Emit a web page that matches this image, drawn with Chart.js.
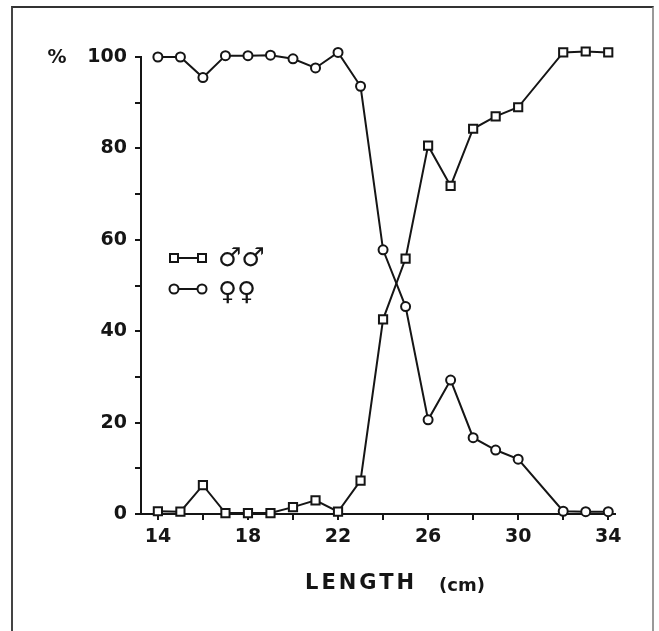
<!DOCTYPE html>
<html>
<head>
<meta charset="utf-8">
<script src="https://cdn.jsdelivr.net/npm/chart.js@4.4.1/dist/chart.umd.min.js"></script>
<style>
	body { margin: 0; background: #fff; }
	#wrap { position: relative; width: 659px; height: 631px; }
	#frame { position: absolute; left: 11px; top: 6px; width: 639px; height: 630px;
		border-left: 2px solid #444; border-top: 2px solid #333; border-right: 2px solid #999; }
	#chart { position: absolute; left: 0; top: 0; }
</style>
</head>
<body>
<div id="wrap">
	<div id="frame"></div>
	<canvas id="chart" width="659" height="631"></canvas>
</div>
<script>
// length classes (cm) and % of each sex
const maleLengths = [14, 15, 16, 17, 18, 19, 20, 21, 22, 23, 24, 25, 26, 27, 28, 29, 30, 32, 33, 34]
const malePct = [0.6, 0.5, 6.3, 0.2, 0.2, 0.2, 1.5, 3, 0.5, 7.3, 42.6, 55.9, 80.6, 71.8, 84.3, 87, 89, 101, 101.2, 101]
const femaleLengths = [14, 15, 16, 17, 18, 19, 20, 21, 22, 23, 24, 25, 26, 27, 28, 29, 30, 32, 33, 34]
const femalePct = [100, 100, 95.5, 100.3, 100.3, 100.4, 99.6, 97.6, 101, 93.6, 57.8, 45.4, 20.6, 29.3, 16.7, 14, 12, 0.6, 0.5, 0.5]

const xTickValues = [14, 16, 18, 20, 22, 24, 26, 28, 30, 32, 34]
const xTickLabels = [14, 18, 22, 26, 30, 34]
const yTickLabels = [0, 20, 40, 60, 80, 100]

const ink = '#151515'
const tickFont = { family: 'DejaVu Sans', weight: 'bold', size: 19 }

const toPoints = (xs, ys) => xs.map((x, i) => ({ x: x, y: ys[i] }))

//extra text: %, legend, axis title
const extras = {
	id: 'extras',
	afterDraw(chart) {
		const ctx = chart.ctx
		const area = chart.chartArea
		const y = chart.scales.y
		ctx.save()
		ctx.fillStyle = ink
		ctx.strokeStyle = ink
		ctx.textBaseline = 'middle'

		ctx.font = 'bold 19px "DejaVu Sans"'
		ctx.textAlign = 'center'
		ctx.fillText('%', 57, y.getPixelForValue(100) + 1)

		// legend
		const row1 = 258, row2 = 289
		const ax = area.left + 33, bx = area.left + 61
		ctx.lineWidth = 2
		ctx.beginPath()
		ctx.moveTo(ax, row1); ctx.lineTo(bx, row1)
		ctx.moveTo(ax, row2); ctx.lineTo(bx, row2)
		ctx.stroke()
		ctx.fillStyle = '#fff'
		for (const cx of [ax, bx]) {
			ctx.fillRect(cx - 4, row1 - 4, 8, 8)
			ctx.strokeRect(cx - 4, row1 - 4, 8, 8)
			ctx.beginPath()
			ctx.arc(cx, row2, 4.5, 0, Math.PI * 2)
			ctx.fill()
			ctx.stroke()
		}
		ctx.fillStyle = ink
		ctx.textAlign = 'left'
		ctx.font = '26px "DejaVu Sans"'
		ctx.fillText('\u2642\u2642', area.left + 77, row1 + 1)
		ctx.fillText('\u2640\u2640', area.left + 77, row2 + 4)

		// x title
		ctx.font = 'bold 21px "DejaVu Sans"'
		ctx.letterSpacing = '3px'
		ctx.fillText('LENGTH', 305, 584)
		ctx.letterSpacing = '0px'
		ctx.font = 'bold 18px "DejaVu Sans"'
		ctx.fillText('(cm)', 439, 586)
		ctx.restore()
	}
}

const chart_ctx = document.getElementById('chart').getContext('2d')
new Chart(chart_ctx, {
	type: 'line',
	data: {
		datasets: [{
			label: 'males',
			data: toPoints(maleLengths, malePct),
			borderColor: ink,
			borderWidth: 2,
			pointStyle: 'rect',
			pointRadius: 5.8,
			pointBorderWidth: 2,
			pointBackgroundColor: '#fff',
			pointBorderColor: ink,
			tension: 0,
			clip: false
		}, {
			label: 'females',
			data: toPoints(femaleLengths, femalePct),
			borderColor: ink,
			borderWidth: 2,
			pointStyle: 'circle',
			pointRadius: 4.5,
			pointBorderWidth: 2,
			pointBackgroundColor: '#fff',
			pointBorderColor: ink,
			tension: 0,
			clip: false
		}]
	},
	options: {
		responsive: false,
		animation: false,
		layout: { padding: { left: 20, right: 44, top: 57, bottom: 77 } },
		plugins: {
			legend: { display: false },
			tooltip: { enabled: false }
		},
		scales: {
			x: {
				type: 'linear',
				min: 13.25,
				max: 34.3,
				afterFit: (s) => { s.height = 40 },
				afterBuildTicks: (s) => { s.ticks = xTickValues.map(v => ({ value: v })) },
				border: { color: ink, width: 2 },
				grid: { drawOnChartArea: false, color: ink, lineWidth: 2, tickLength: 6 },
				ticks: {
					color: ink,
					font: tickFont,
					padding: 6,
					maxRotation: 0,
					autoSkip: false,
					callback: (v) => xTickLabels.includes(v) ? v : ''
				}
			},
			y: {
				min: 0,
				max: 100,
				afterFit: (s) => { s.width = 121 },
				border: { color: ink, width: 2 },
				grid: { drawOnChartArea: false, color: ink, lineWidth: 2, tickLength: 6 },
				ticks: {
					stepSize: 10,
					color: ink,
					font: tickFont,
					padding: 8,
					callback: (v) => yTickLabels.includes(v) ? v : ''
				}
			}
		}
	},
	plugins: [extras]
})
</script>
</body>
</html>
